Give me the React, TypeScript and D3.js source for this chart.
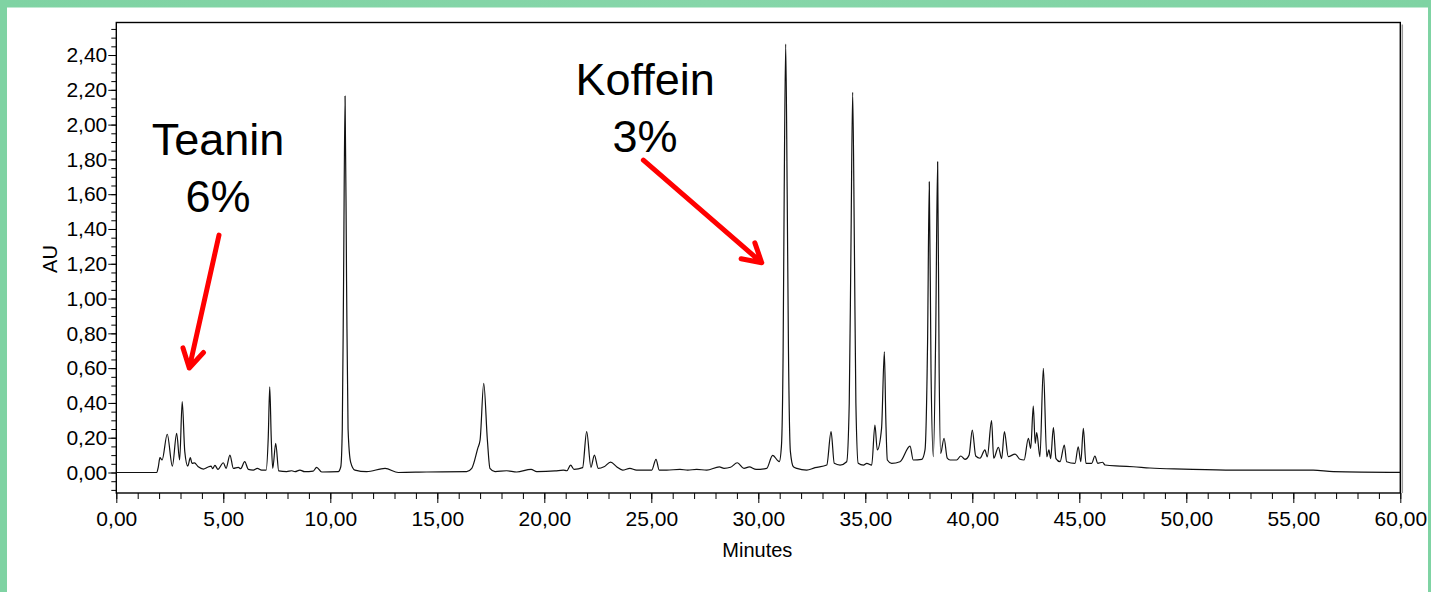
import * as d3 from "d3";
import React, { RefObject, useEffect, useRef } from "react";

// chromatogram trace: [minutes, AU]
const trace: [number, number][] = [
  [0, 0], [1.89, 0], [1.96, 0.03], [2.04, 0.085], [2.14, 0.072], [2.38, 0.22],
  [2.62, 0.037], [2.82, 0.225], [2.96, 0.072], [3.08, 0.407], [3.2, 0.12],
  [3.34, 0.037], [3.46, 0.085], [3.54, 0.053], [3.65, 0.055], [3.83, 0.033],
  [4.07, 0.02], [4.27, 0.03], [4.43, 0.037], [4.5, 0.022], [4.61, 0.041],
  [4.75, 0.018], [5.0, 0.056], [5.13, 0.024], [5.31, 0.1], [5.47, 0.024],
  [5.7, 0.03], [5.81, 0.022], [6.0, 0.062], [6.17, 0.018], [6.4, 0.014],
  [6.59, 0.024], [6.79, 0.014], [7.0, 0.014], [7.1, 0.2], [7.17, 0.493],
  [7.24, 0.2], [7.31, 0.024], [7.45, 0.168], [7.59, 0.009], [7.96, 0.005],
  [8.2, 0.01], [8.35, 0.005], [8.58, 0.014], [8.8, 0.005], [9.2, 0.008],
  [9.36, 0.03], [9.6, 0.003], [10.37, 0.005], [10.49, 0.033], [10.56, 0.25],
  [10.62, 1.1], [10.69, 2.164], [10.76, 1.1], [10.83, 0.25], [10.95, 0.06],
  [11.15, 0.014], [11.7, 0.005], [12.56, 0.024], [13.18, 0.0], [14.5, 0.003],
  [16.37, 0.005], [16.61, 0.024], [16.89, 0.139], [17.0, 0.187], [17.17, 0.513],
  [17.34, 0.187], [17.46, 0.024], [17.7, 0.005], [18.24, 0.01], [18.71, 0.003],
  [19.38, 0.018], [19.65, 0.005], [20.5, 0.009], [20.89, 0.014], [21.05, 0.01],
  [21.23, 0.043], [21.39, 0.018], [21.79, 0.028], [21.98, 0.235], [22.18, 0.03],
  [22.34, 0.1], [22.52, 0.024], [22.79, 0.033], [23.1, 0.06], [23.38, 0.033],
  [23.66, 0.014], [24.0, 0.024], [24.31, 0.014], [25.02, 0.014], [25.22, 0.076],
  [25.37, 0.014], [25.72, 0.014], [26.34, 0.018], [26.7, 0.014], [27.12, 0.018],
  [27.59, 0.014], [28.18, 0.032], [28.4, 0.024], [28.7, 0.03], [29.02, 0.056],
  [29.33, 0.024], [29.58, 0.032], [29.9, 0.018], [30.39, 0.024], [30.67, 0.099],
  [30.98, 0.062], [31.08, 0.15], [31.16, 0.7], [31.21, 1.6], [31.28, 2.463],
  [31.35, 1.6], [31.41, 0.7], [31.5, 0.12], [31.64, 0.033], [31.8, 0.024],
  [32.26, 0.014], [32.65, 0.028], [33.2, 0.043], [33.4, 0.235], [33.55, 0.053],
  [33.82, 0.043], [34.13, 0.062], [34.25, 0.4], [34.33, 1.3], [34.41, 2.185],
  [34.49, 1.3], [34.56, 0.4], [34.67, 0.053], [34.91, 0.043], [35.07, 0.053],
  [35.3, 0.043], [35.45, 0.273], [35.56, 0.13], [35.76, 0.254], [35.89, 0.694],
  [35.96, 0.3], [36.03, 0.072], [36.23, 0.053], [36.62, 0.062], [37.09, 0.152],
  [37.24, 0.072], [37.64, 0.076], [37.79, 0.13], [37.91, 0.75], [37.99, 1.671],
  [38.07, 0.6], [38.18, 0.091], [38.29, 0.8], [38.38, 1.786], [38.45, 0.6],
  [38.52, 0.11], [38.68, 0.197], [38.83, 0.082], [38.96, 0.072], [39.27, 0.072],
  [39.46, 0.095], [39.66, 0.076], [39.85, 0.1], [40.0, 0.244], [40.16, 0.095],
  [40.36, 0.082], [40.59, 0.13], [40.7, 0.09], [40.9, 0.298], [41.0, 0.082],
  [41.22, 0.145], [41.37, 0.08], [41.5, 0.235], [41.68, 0.091], [42.0, 0.106],
  [42.23, 0.076], [42.42, 0.072], [42.62, 0.197], [42.73, 0.139], [42.85, 0.382],
  [42.94, 0.168], [43.01, 0.229], [43.16, 0.091], [43.32, 0.599], [43.48, 0.091],
  [43.58, 0.13], [43.66, 0.08], [43.79, 0.258], [43.91, 0.08], [44.1, 0.062],
  [44.3, 0.158], [44.41, 0.062], [44.8, 0.053], [44.95, 0.148], [45.07, 0.062],
  [45.19, 0.254], [45.31, 0.053], [45.58, 0.053], [45.73, 0.095], [45.86, 0.053],
  [46.09, 0.059], [46.2, 0.043], [46.9, 0.037], [47.52, 0.033], [48.3, 0.026],
  [49.86, 0.02], [52.2, 0.014], [54.2, 0.014], [55.93, 0.014], [56.87, 0.005],
  [60, 0.001],
];

const xTicks = [0, 5, 10, 15, 20, 25, 30, 35, 40, 45, 50, 55, 60];
const yTicks = [0, 0.2, 0.4, 0.6, 0.8, 1.0, 1.2, 1.4, 1.6, 1.8, 2.0, 2.2, 2.4];
const xLabel = "Minutes";
const yLabel = "AU";

// annotation labels, anchored in data units (minutes, AU)
const notes = [
  { text: ["Teanin", "6%"], at: [4.75, 1.825], tail: [4.8, 1.365], tip: [3.41, 0.601] },
  { text: ["Koffein", "3%"], at: [24.71, 2.17], tail: [24.63, 1.796], tip: [30.16, 1.206] },
];

const W = 1431;
const H = 592;
const M = { left: 116.3, right: 1400.3, top: 22.5, bottom: 493 };
const FONT = "'Liberation Sans', Arial, sans-serif";

const App = () => {
  const ref: RefObject<SVGSVGElement> = useRef(null);

  useEffect(() => {
    const svg = d3.select(ref.current);
    svg.selectAll("*").remove();

    const grad = svg.append("defs").append("linearGradient").attr("id", "bg");
    grad.append("stop").attr("offset", "0%").attr("stop-color", "#7fd3a3");
    grad.append("stop").attr("offset", "50%").attr("stop-color", "#86d6a9");
    grad.append("stop").attr("offset", "100%").attr("stop-color", "#7fd3a3");
    svg.append("rect").attr("width", W).attr("height", H).attr("fill", "url(#bg)");
    svg.append("rect").attr("x", 7).attr("y", 7.5).attr("width", 1421).attr("height", H).attr("fill", "#fff");

    const x = d3.scaleLinear().domain([0, 60]).range([M.left, M.right]);
    const y = d3.scaleLinear().domain([-0.1178, 2.587]).range([M.bottom, M.top]);
    const fmt = d3
      .formatLocale({ decimal: ",", thousands: ".", grouping: [3], currency: ["", ""] })
      .format(".2f");

    // minor ticks
    svg.append("g")
      .attr("transform", `translate(0,${M.bottom})`)
      .call(d3.axisBottom(x).tickValues(d3.range(0, 61, 1)).tickSize(6).tickFormat(() => ""))
      .call((g) => g.select(".domain").remove());
    svg.append("g")
      .attr("transform", `translate(${M.left},0)`)
      .call(d3.axisLeft(y).tickValues(d3.range(-0.1, 2.58, 0.05)).tickSize(5).tickFormat(() => ""))
      .call((g) => g.select(".domain").remove());

    // major ticks
    svg.append("g")
      .attr("transform", `translate(0,${M.bottom})`)
      .call(d3.axisBottom(x).tickValues(xTicks).tickSize(10).tickPadding(8).tickFormat((d) => fmt(d as number)))
      .call((g) => g.select(".domain").remove())
      .call((g) => g.selectAll("text").attr("font-size", 21).attr("font-family", FONT).attr("fill", "#000"));
    svg.append("g")
      .attr("transform", `translate(${M.left},0)`)
      .call(d3.axisLeft(y).tickValues(yTicks).tickSize(8).tickPadding(1).tickFormat((d) => fmt(d as number)))
      .call((g) => g.select(".domain").remove())
      .call((g) => g.selectAll("text").attr("font-size", 21).attr("font-family", FONT).attr("fill", "#000"));

    // frame
    svg.append("line")
      .attr("x1", M.right + 2).attr("x2", M.right + 2)
      .attr("y1", M.top + 2).attr("y2", M.bottom)
      .attr("stroke", "#9a9a9a").attr("stroke-width", 1.5);
    svg.append("rect")
      .attr("x", M.left).attr("y", M.top)
      .attr("width", M.right - M.left).attr("height", M.bottom - M.top)
      .attr("fill", "none").attr("stroke", "#000").attr("stroke-width", 1.4);

    // trace
    svg.append("path")
      .datum(trace)
      .attr("fill", "none")
      .attr("stroke", "#111")
      .attr("stroke-width", 1.2)
      .attr("stroke-linejoin", "round")
      .attr(
        "d",
        d3.line<[number, number]>()
          .x((d) => x(d[0]))
          .y((d) => y(d[1]))
          .curve(d3.curveMonotoneX)
      );

    // axis titles
    svg.append("text")
      .attr("x", (M.left + M.right) / 2 - 1).attr("y", 556.5)
      .attr("text-anchor", "middle").attr("font-size", 20).attr("font-family", FONT)
      .text(xLabel);
    svg.append("text")
      .attr("transform", `translate(57,${259}) rotate(-90)`)
      .attr("text-anchor", "middle").attr("font-size", 20).attr("font-family", FONT)
      .text(yLabel);

    // annotations + red arrows
    notes.forEach((n) => {
      n.text.forEach((t, i) => {
        svg.append("text")
          .attr("x", x(n.at[0])).attr("y", y(n.at[1]) + i * 56.7)
          .attr("text-anchor", "middle").attr("font-size", 45).attr("font-family", FONT)
          .attr("fill", "#000")
          .text(t);
      });
      const x0 = x(n.tail[0]), y0 = y(n.tail[1]);
      const x1 = x(n.tip[0]), y1 = y(n.tip[1]);
      const a = Math.atan2(y0 - y1, x0 - x1);
      const len = 21;
      const wing = (s: number) => [x1 + len * Math.cos(a + s), y1 + len * Math.sin(a + s)];
      const [wx1, wy1] = wing(Math.PI / 6);
      const [wx2, wy2] = wing(-Math.PI / 6);
      svg.append("path")
        .attr("d", `M${x0},${y0}L${x1},${y1}M${wx1},${wy1}L${x1},${y1}L${wx2},${wy2}`)
        .attr("fill", "none").attr("stroke", "#ff0000").attr("stroke-width", 5)
        .attr("stroke-linecap", "round").attr("stroke-linejoin", "round");
    });
  }, [ref]);

  return (
    <svg
      ref={ref}
      width={W}
      height={H}
      style={{ position: "absolute", left: 0, top: 0, display: "block" }}
    />
  );
};

export default App;
